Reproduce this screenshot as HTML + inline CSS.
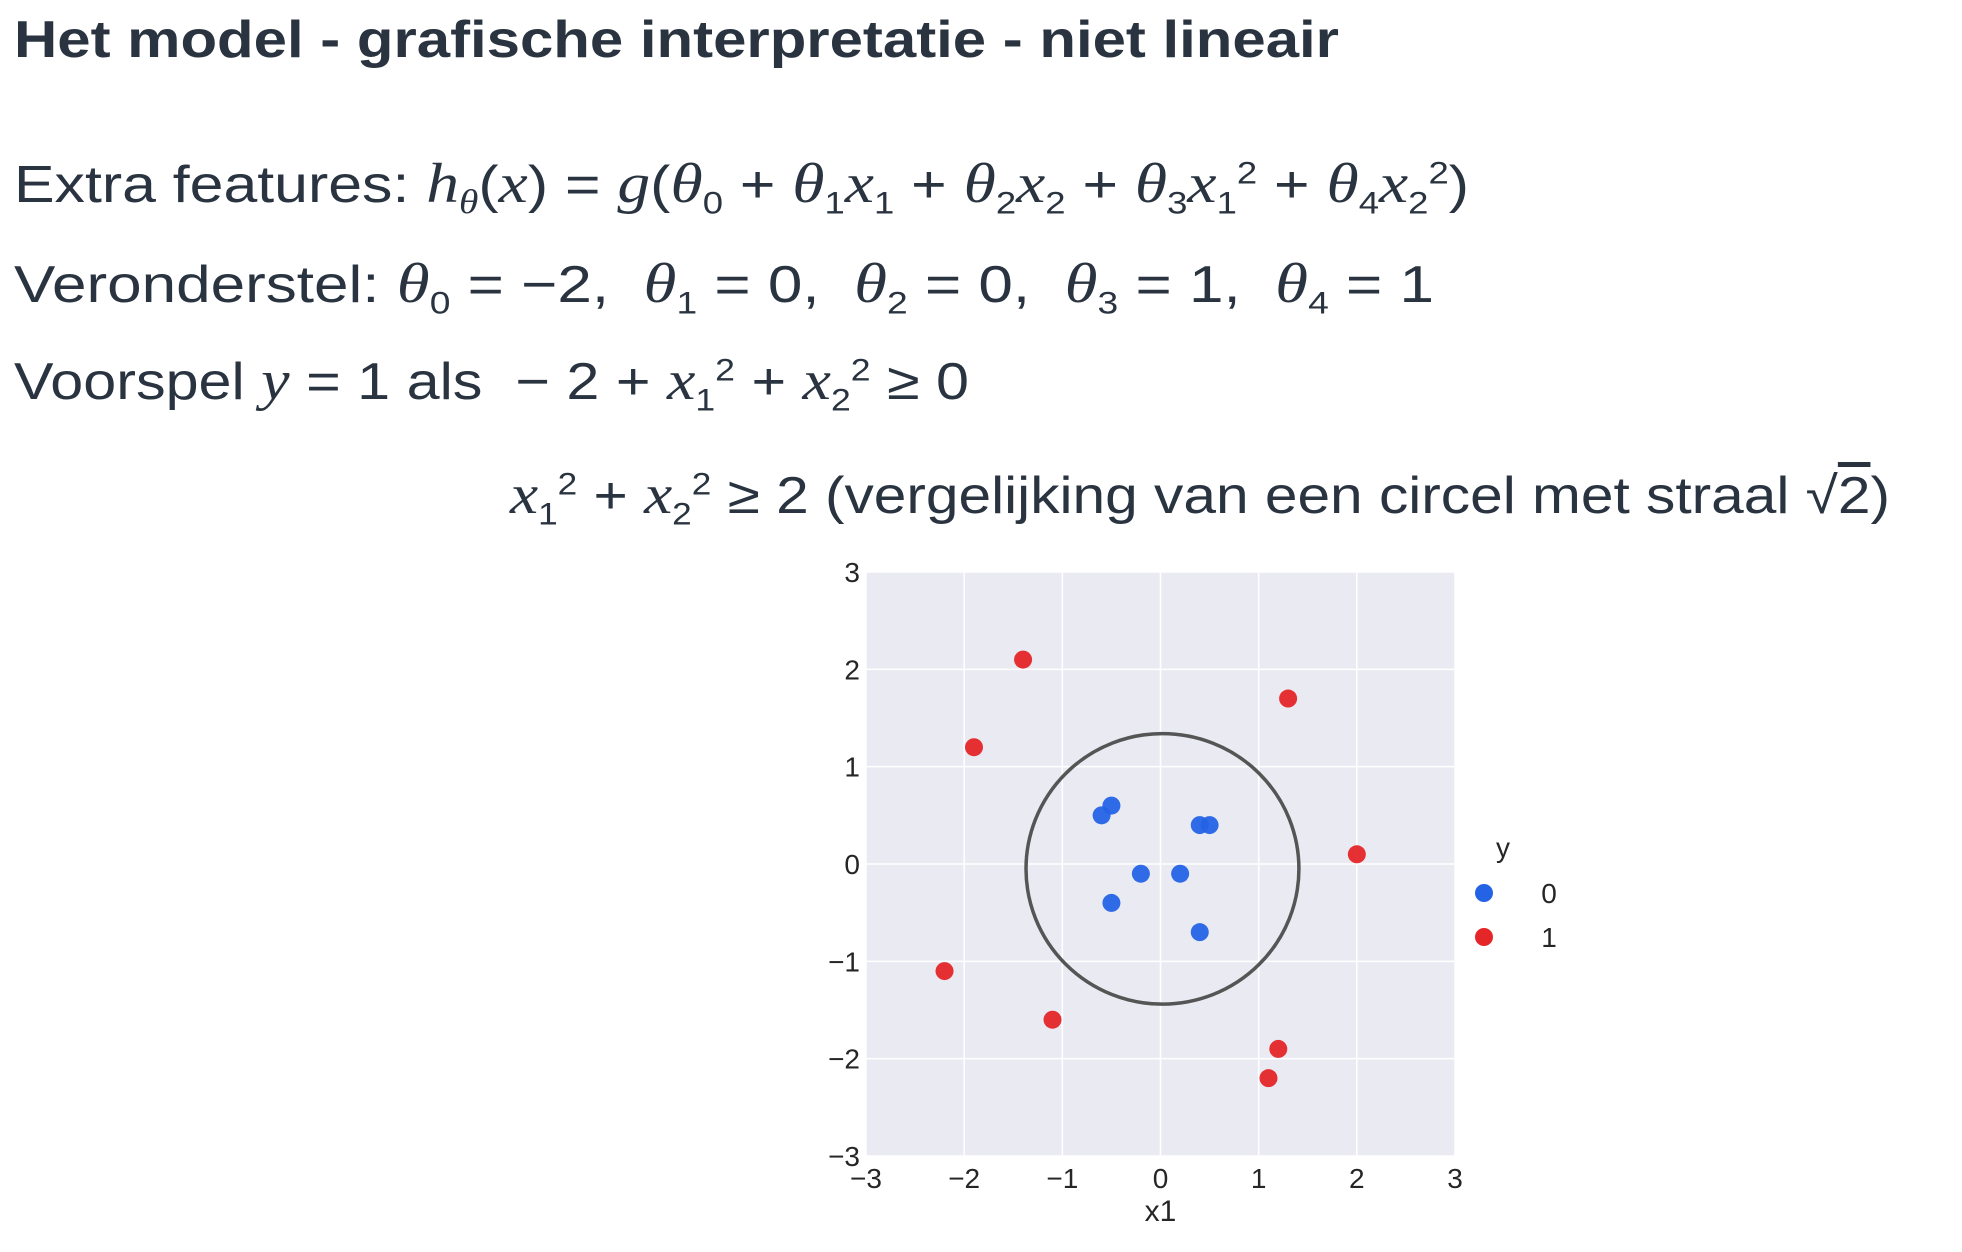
<!DOCTYPE html>
<html><head><meta charset="utf-8">
<style>
html,body{margin:0;padding:0;background:#fff;width:1962px;height:1252px;overflow:hidden;position:relative}
.ln{position:absolute;white-space:nowrap;color:#2a3440;font-family:"Liberation Sans",sans-serif;transform-origin:0 100%;line-height:1}
.t{font-weight:bold;font-size:52px}
.m{font-size:52px}
i{font-family:"Liberation Serif",serif;font-size:1.08em}
sub,sup{font-size:0.6em;line-height:0}
</style></head><body>
<div class="ln t" data-w="1325" style="left:14px;top:14px">Het model - grafische interpretatie - niet lineair</div>
<div class="ln m" data-w="1455" style="left:14px;top:156px">Extra features: <i>h</i><sub><i>θ</i></sub>(<i>x</i>) = <i>g</i>(<i>θ</i><sub>0</sub> + <i>θ</i><sub>1</sub><i>x</i><sub>1</sub> + <i>θ</i><sub>2</sub><i>x</i><sub>2</sub> + <i>θ</i><sub>3</sub><i>x</i><sub>1</sub><sup>2</sup> + <i>θ</i><sub>4</sub><i>x</i><sub>2</sub><sup>2</sup>)</div>
<div class="ln m" data-w="1420" style="left:14px;top:256px">Veronderstel: <i>θ</i><sub>0</sub> = −2,&nbsp; <i>θ</i><sub>1</sub> = 0,&nbsp; <i>θ</i><sub>2</sub> = 0,&nbsp; <i>θ</i><sub>3</sub> = 1,&nbsp; <i>θ</i><sub>4</sub> = 1</div>
<div class="ln m" data-w="955" style="left:14px;top:353px">Voorspel <i>y</i> = 1 als &nbsp;− 2 + <i>x</i><sub>1</sub><sup>2</sup> + <i>x</i><sub>2</sub><sup>2</sup> ≥ 0</div>
<div class="ln m" data-w="1380" style="left:510px;top:467px"><i>x</i><sub>1</sub><sup>2</sup> + <i>x</i><sub>2</sub><sup>2</sup> ≥ 2 (vergelijking van een circel met straal √<span style="text-decoration:overline">2</span>)</div>

<svg id="chart" width="1962" height="1252" style="position:absolute;left:0;top:0" font-family="Liberation Sans, sans-serif"></svg>

<script>
const xTicks=[-3,-2,-1,0,1,2,3];
const yTicks=[-3,-2,-1,0,1,2,3];
const tickLabels=["−3","−2","−1","0","1","2","3"];
const class0X=[-0.5,-0.6,0.4,0.5,-0.2,0.2,-0.5,0.4];
const class0Y=[0.6,0.5,0.4,0.4,-0.1,-0.1,-0.4,-0.7];
const class1X=[-1.4,-1.9,1.3,2.0,-2.2,-1.1,1.2,1.1];
const class1Y=[2.1,1.2,1.7,0.1,-1.1,-1.6,-1.9,-2.2];
const circleCenter=[0.02,-0.05];
const circleRadius=1.39;
const legendLabels=["0","1"];

const NS="http://www.w3.org/2000/svg";
const svg=document.getElementById('chart');
const L=866,R=1455,T=572,B=1156;
const sx=v=>L+(v+3)/6*(R-L);
const sy=v=>B-(v+3)/6*(B-T);
function mk(tag,at,parent){const e=document.createElementNS(NS,tag);for(const k in at)e.setAttribute(k,at[k]);(parent||svg).appendChild(e);return e;}
const bg=mk('rect',{x:L,y:T,width:R-L,height:B-T,fill:'#eaeaf2'});


xTicks.forEach((v,i)=>{
  const g=mk('line',{x1:sx(v),x2:sx(v),y1:T,y2:B,stroke:'#fff','stroke-width':1.5});
  
  
  const t=mk('text',{x:sx(v),y:1188,'text-anchor':'middle','font-size':28,fill:'#262626'});
  t.textContent=tickLabels[i];
  
  
});
yTicks.forEach((v,i)=>{
  const g=mk('line',{x1:L,x2:R,y1:sy(v),y2:sy(v),stroke:'#fff','stroke-width':1.5});
  
  
  const t=mk('text',{x:860,y:sy(v)+10,'text-anchor':'end','font-size':28,fill:'#262626'});
  t.textContent=tickLabels[i];
  
  
});
const xl=mk('text',{x:sx(0),y:1221,'text-anchor':'middle','font-size':30,fill:'#262626'});
xl.textContent='x1';


const circ=mk('ellipse',{cx:sx(circleCenter[0]),cy:sy(circleCenter[1]),rx:circleRadius*(R-L)/6,ry:circleRadius*(B-T)/6,fill:'none',stroke:'#555','stroke-width':3.5});


class0X.forEach((x,i)=>{
  const c=mk('circle',{cx:sx(x),cy:sy(class0Y[i]),r:9,fill:'#2563e6','fill-opacity':0.95});
  
  
});
class1X.forEach((x,i)=>{
  const c=mk('circle',{cx:sx(x),cy:sy(class1Y[i]),r:9,fill:'#e52628','fill-opacity':0.95});
  
  
});
const lt=mk('text',{x:1503,y:857,'text-anchor':'middle','font-size':28,fill:'#262626'});
lt.textContent='y';


const lc=['#2563e6','#e52628'];
legendLabels.forEach((lab,i)=>{
  const y=893+i*44;
  const m=mk('circle',{cx:1484,cy:y,r:9,fill:lc[i]});
  
  
  const t=mk('text',{x:1549,y:y+10,'text-anchor':'middle','font-size':28,fill:'#262626'});
  t.textContent=lab;
  
  
});
document.querySelectorAll('.ln').forEach(el=>{
  const w=el.getBoundingClientRect().width;
  const tw=+el.dataset.w;
  el.style.transform='scaleX('+(tw/w)+')';
});
</script>
</body></html>
